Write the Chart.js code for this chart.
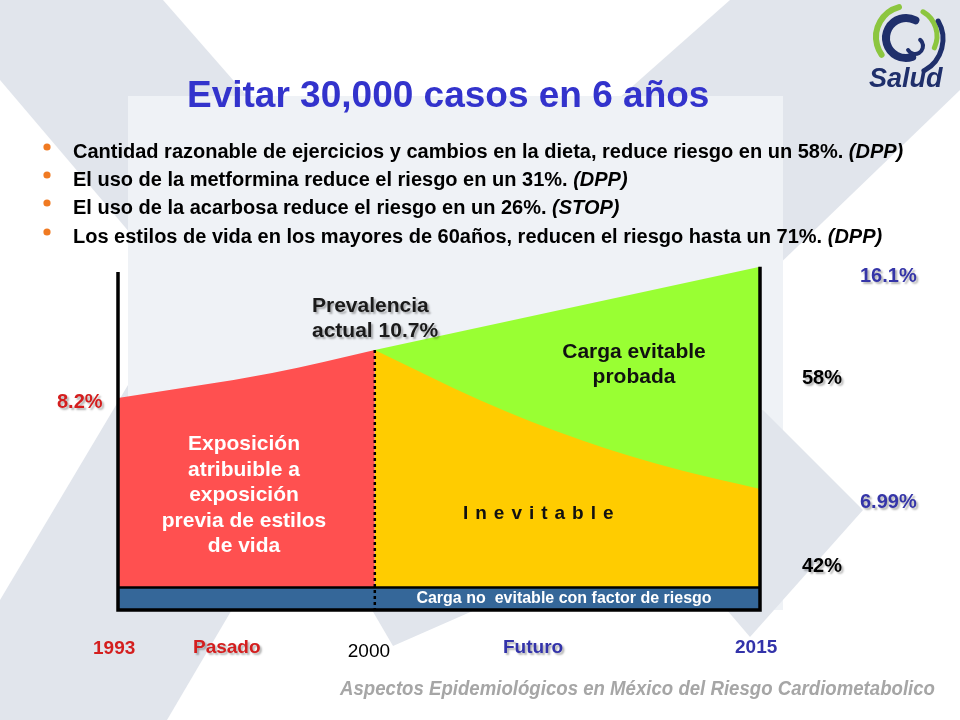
<!DOCTYPE html>
<html>
<head>
<meta charset="utf-8">
<script src="https://cdn.jsdelivr.net/npm/chart.js@4.4.1/dist/chart.umd.min.js"></script>
<style>
  html, body { margin: 0; padding: 0; background: #ffffff; }
  canvas { display: block; }
</style>
</head>
<body>
<canvas id="c" width="960" height="720" style="width:960px;height:720px"></canvas>
<script>
// ---------------- DATA (schematic positions) ----------------
// x: position along the schematic timeline (0 = 1993, 40 = 2000, 100 = 2015)
// y: schematic height of the burden areas (0..100)
const timeLabels = ['1993', '2000', '2015'];
const timePos = [0, 40, 100];

const pastX = [0, 24, 40];              // "Exposición atribuible..." (red)
const pastY = [60.9, 68.1, 74.7];

const evitableX = [40, 100];            // "Carga evitable probada" top (green)
const evitableY = [74.7, 98.6];

const inevitableX = [40, 56.4, 72, 87.5, 100];   // "Inevitable" top (yellow)
const inevitableY = [74.7, 60.3, 48.9, 40.2, 34.8];

const riskBaseTop = 6.5;                // "Carga no evitable con factor de riesgo" (blue)
const frameLeftTop = 97.1;
const frameRightTop = 98.6;

const prevalenceLabels = ['8.2%', 'actual 10.7%', '16.1%', '6.99%'];
const shareLabels = ['58%', '42%'];

const titleText = 'Evitar 30,000 casos en 6 años';
const bullets = [
  ['Cantidad razonable de ejercicios y cambios en la dieta, reduce riesgo en un 58%. ', '(DPP)'],
  ['El uso de la metformina reduce el riesgo en un 31%. ', '(DPP)'],
  ['El uso de la acarbosa reduce el riesgo en un 26%. ', '(STOP)'],
  ['Los estilos de vida en los mayores de 60años, reducen el riesgo hasta un 71%. ', '(DPP)']
];
const exposicionLines = ['Exposición', 'atribuible a', 'exposición', 'previa de estilos', 'de vida'];
const evitableLines = ['Carga evitable', 'probada'];
const footerText = 'Aspectos Epidemiológicos en México del Riesgo Cardiometabolico';

// ---------------- helpers ----------------
const FF = "'Liberation Sans', Arial, Helvetica, sans-serif";
const pts = (xs, ys) => xs.map((x, i) => ({ x: x, y: ys[i] }));

function txt(ctx, s, x, y, font, color, align, shadow, maxW, spacing) {
  ctx.save();
  ctx.font = font;
  ctx.fillStyle = color;
  ctx.textAlign = align || 'left';
  ctx.textBaseline = 'alphabetic';
  if (spacing && 'letterSpacing' in ctx) ctx.letterSpacing = spacing;
  if (shadow) {
    ctx.shadowColor = 'rgba(0,0,0,0.3)';
    ctx.shadowOffsetX = 2;
    ctx.shadowOffsetY = 2;
    ctx.shadowBlur = 2;
  }
  if (maxW) ctx.fillText(s, x, y, maxW); else ctx.fillText(s, x, y);
  ctx.restore();
}

function poly(ctx, p, color) {
  ctx.beginPath();
  ctx.moveTo(p[0][0], p[0][1]);
  for (let i = 1; i < p.length; i++) ctx.lineTo(p[i][0], p[i][1]);
  ctx.closePath();
  ctx.fillStyle = color;
  ctx.fill();
}

const background = {
  id: 'background',
  beforeDraw(chart) {
    const ctx = chart.ctx;
    ctx.save();
    ctx.fillStyle = '#ffffff';
    ctx.fillRect(0, 0, 960, 720);
    const g = '#E1E5EC';
    poly(ctx, [[0,0],[163,0],[513,400],[272,400],[0,80]], g);
    poly(ctx, [[0,600],[128,385],[364,385],[167,720],[0,720]], g);
    poly(ctx, [[730,0],[960,0],[960,90],[742,300],[391,300]], g);
    ctx.fillStyle = '#EFF2F6';
    ctx.fillRect(128, 96, 655, 514);
    poly(ctx, [[763,410],[863,510],[750,637],[650,520],[660,420]], g);
    poly(ctx, [[372,610],[393,646],[475,610]], g);
    ctx.restore();
  }
};

const overlay = {
  id: 'overlay',
  afterDraw(chart) {
    const ctx = chart.ctx;
    const xs = chart.scales.x;
    const X = v => xs.getPixelForValue(v);

    // Logo
    ctx.save();
    ctx.lineCap = 'round';
    const D = Math.PI / 180;
    ctx.strokeStyle = '#8CC63F'; ctx.lineWidth = 6;
    ctx.beginPath(); ctx.arc(907, 37, 31, -105 * D, 145 * D, true); ctx.stroke();
    ctx.lineWidth = 5;
    ctx.beginPath(); ctx.arc(909, 36, 28, -60 * D, 25 * D, false); ctx.stroke();
    ctx.strokeStyle = '#1F2F6B'; ctx.lineWidth = 8;
    ctx.beginPath(); ctx.arc(906, 38, 20, -62 * D, 72 * D, true); ctx.stroke();
    ctx.lineWidth = 5;
    ctx.beginPath(); ctx.arc(907, 39, 36, -30 * D, 62 * D, false); ctx.stroke();
    ctx.lineWidth = 4;
    ctx.beginPath(); ctx.arc(915, 46, 8, 150 * D, -50 * D, true); ctx.stroke();
    ctx.restore();
    txt(ctx, 'Salud', 869, 87, 'italic bold 27px ' + FF, '#1F2F6B');

    // Title
    txt(ctx, titleText, 187, 107, 'bold 37px ' + FF, '#3333CC');

    // Bullets
    const by = [158, 186, 214, 243];
    bullets.forEach((b, i) => {
      ctx.save();
      ctx.fillStyle = '#F07A22';
      ctx.beginPath(); ctx.arc(47, by[i] - 11, 3.6, 0, Math.PI * 2); ctx.fill();
      ctx.font = 'bold 20px ' + FF;
      const w = ctx.measureText(b[0]).width;
      ctx.restore();
      txt(ctx, b[0], 73, by[i], 'bold 20px ' + FF, '#000000');
      txt(ctx, b[1], 73 + w, by[i], 'italic bold 20px ' + FF, '#000000');
    });

    // Chart annotations
    txt(ctx, 'Prevalencia', 312, 312, 'bold 21px ' + FF, '#1a1a1a', 'left', true);
    txt(ctx, prevalenceLabels[1], 312, 337, 'bold 21px ' + FF, '#1a1a1a', 'left', true);
    txt(ctx, prevalenceLabels[0], 57, 408, 'bold 20px ' + FF, '#D41E1E', 'left', true);
    txt(ctx, prevalenceLabels[2], 860, 282, 'bold 20px ' + FF, '#3535A8', 'left', true);
    txt(ctx, prevalenceLabels[3], 860, 508, 'bold 20px ' + FF, '#3535A8', 'left', true);
    txt(ctx, shareLabels[0], 802, 384, 'bold 20px ' + FF, '#000000', 'left', true);
    txt(ctx, shareLabels[1], 802, 572, 'bold 20px ' + FF, '#000000', 'left', true);

    evitableLines.forEach((s, i) => txt(ctx, s, 634, 358 + i * 25, 'bold 21px ' + FF, '#111111', 'center'));
    exposicionLines.forEach((s, i) => txt(ctx, s, 244, 450 + i * 25.5, 'bold 21px ' + FF, '#ffffff', 'center'));
    txt(ctx, 'I n e v i t a b l e', 463, 519, 'bold 19px ' + FF, '#111111', 'left', false, null, '0.85px');
    txt(ctx, 'Carga no  evitable con factor de riesgo', 564, 603, 'bold 16px ' + FF, '#ffffff', 'center');

    // Timeline labels
    txt(ctx, timeLabels[0], X(timePos[0]) - 25, 654, 'bold 19px ' + FF, '#D41E1E', 'left');
    txt(ctx, 'Pasado', 193, 653, 'bold 19px ' + FF, '#D41E1E', 'left', true);
    txt(ctx, timeLabels[1], X(timePos[1]) - 27, 657, '19px ' + FF, '#000000', 'left');
    txt(ctx, 'Futuro', 503, 653, 'bold 19px ' + FF, '#3333AA', 'left', true);
    txt(ctx, timeLabels[2], X(timePos[2]) - 25, 653, 'bold 19px ' + FF, '#3333AA', 'left');

    // Footer
    txt(ctx, footerText, 340, 695, 'italic bold 20px ' + FF, '#A6A6A6', 'left', false, 595);
  }
};

const common = { pointRadius: 0, pointHoverRadius: 0, tension: 0, clip: false };

new Chart(document.getElementById('c'), {
  type: 'line',
  data: {
    datasets: [
      Object.assign({}, common, {
        label: 'divisor 2000',
        data: [{ x: timePos[1], y: inevitableY[0] }, { x: timePos[1], y: 0 }],
        borderColor: '#000000', borderWidth: 2.5, borderDash: [3, 3], fill: false, order: 0
      }),
      Object.assign({}, common, {
        label: 'marco',
        data: [{ x: timePos[0], y: frameLeftTop }, { x: timePos[0], y: 0 }, { x: timePos[2], y: 0 }, { x: timePos[2], y: frameRightTop }],
        borderColor: '#000000', borderWidth: 3.5, borderJoinStyle: 'miter', fill: false, order: 1
      }),
      Object.assign({}, common, {
        label: 'Carga no evitable con factor de riesgo',
        data: [{ x: timePos[0], y: riskBaseTop }, { x: timePos[2], y: riskBaseTop }],
        borderColor: '#000000', borderWidth: 2.5, backgroundColor: '#356799',
        fill: { value: 0 }, order: 3
      }),
      Object.assign({}, common, {
        label: 'Exposición atribuible',
        data: pts(pastX, pastY),
        borderWidth: 0, borderColor: 'rgba(0,0,0,0)', backgroundColor: '#FF5050',
        cubicInterpolationMode: 'monotone', fill: { value: riskBaseTop }, order: 4
      }),
      Object.assign({}, common, {
        label: 'Inevitable',
        data: pts(inevitableX, inevitableY),
        borderWidth: 0, borderColor: 'rgba(0,0,0,0)', backgroundColor: '#FFCC00',
        cubicInterpolationMode: 'monotone', fill: { value: riskBaseTop }, order: 5
      }),
      Object.assign({}, common, {
        label: 'Carga evitable probada',
        data: pts(evitableX, evitableY),
        borderWidth: 0, borderColor: 'rgba(0,0,0,0)', backgroundColor: '#99FF33',
        fill: { value: riskBaseTop }, order: 6
      })
    ]
  },
  options: {
    responsive: false,
    animation: false,
    devicePixelRatio: 1,
    layout: { padding: { left: 118, right: 200, top: 262, bottom: 110 } },
    scales: {
      x: { type: 'linear', min: 0, max: 100, display: false },
      y: { type: 'linear', min: 0, max: 100, display: false }
    },
    plugins: {
      legend: { display: false },
      tooltip: { enabled: false },
      filler: { propagate: false }
    },
    events: []
  },
  plugins: [background, overlay]
});
</script>
</body>
</html>
